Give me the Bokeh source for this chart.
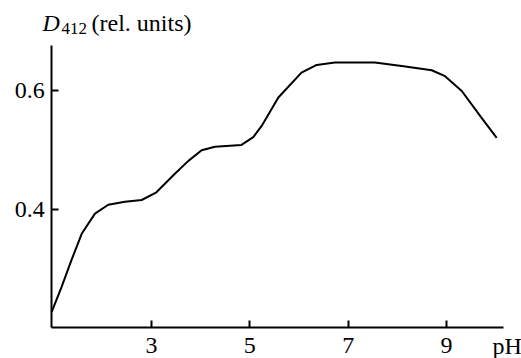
from bokeh.plotting import figure
from bokeh.models import Range1d, FixedTicker, Label, LinearAxis
from bokeh.embed import file_html
from bokeh.resources import INLINE

# Data
ph = [0.97, 1.17, 1.37, 1.58, 1.85, 2.12, 2.46, 2.80, 3.10, 3.47, 3.75, 4.02, 4.29,
      4.83, 5.07, 5.24, 5.58, 6.05, 6.36, 6.73, 7.54, 8.09, 8.70, 8.97, 9.31, 9.71, 10.02]
d412 = [0.227, 0.269, 0.314, 0.359, 0.393, 0.408, 0.413, 0.416, 0.429, 0.460, 0.482, 0.500, 0.506,
        0.509, 0.522, 0.541, 0.589, 0.631, 0.644, 0.648, 0.648, 0.642, 0.635, 0.625, 0.600, 0.555, 0.521]
x_ticks = [3, 5, 7, 9]
y_ticks = [0.4, 0.6]
y_tick_labels = {0.4: "0.4", 0.6: "0.6"}
x_axis_extent = (0.97, 10.16)
y_axis_extent = (0.2, 0.677)

FONT = "Liberation Serif"

p = figure(width=521, height=358, output_backend="svg", toolbar_location=None,
           x_range=Range1d(-0.071, 10.525), y_range=Range1d(0.1485, 0.7527),
           x_axis_location=None, y_axis_location=None,
           min_border_left=0, min_border_right=0, min_border_top=0, min_border_bottom=0)
p.outline_line_color = None
p.grid.visible = False
p.background_fill_color = "white"
p.border_fill_color = "white"

p.line(ph, d412, line_color="black", line_width=2, line_join="round")

xaxis = LinearAxis(ticker=FixedTicker(ticks=x_ticks), fixed_location=y_axis_extent[0],
                   bounds=x_axis_extent, major_label_standoff=10)
yaxis = LinearAxis(ticker=FixedTicker(ticks=y_ticks), fixed_location=x_axis_extent[0],
                   bounds=y_axis_extent, major_label_standoff=7,
                   major_label_overrides=y_tick_labels)
for ax in (xaxis, yaxis):
    ax.axis_line_width = 2
    ax.axis_line_color = "black"
    ax.major_tick_line_width = 2
    ax.major_tick_line_color = "black"
    ax.major_tick_in = 7
    ax.major_tick_out = 0
    ax.minor_tick_line_color = None
    ax.major_label_text_font = FONT
    ax.major_label_text_font_size = "24px"
    ax.major_label_text_color = "black"
p.add_layout(xaxis, "below")
p.add_layout(yaxis, "left")

# Axis titles
p.add_layout(Label(x=42, y=336, x_units="screen", y_units="screen", text="D",
                   text_font=FONT, text_font_style="italic", text_font_size="24px",
                   text_baseline="alphabetic", text_color="black"))
p.add_layout(Label(x=61, y=330, x_units="screen", y_units="screen", text="412",
                   text_font=FONT, text_font_size="17px",
                   text_baseline="alphabetic", text_color="black"))
p.add_layout(Label(x=91, y=336, x_units="screen", y_units="screen", text="(rel. units)",
                   text_font=FONT, text_font_size="24px",
                   text_baseline="alphabetic", text_color="black"))
p.add_layout(Label(x=492, y=13, x_units="screen", y_units="screen", text="pH",
                   text_font=FONT, text_font_size="24px",
                   text_baseline="alphabetic", text_color="black"))

open("out.html", "w").write(file_html(p, INLINE))
